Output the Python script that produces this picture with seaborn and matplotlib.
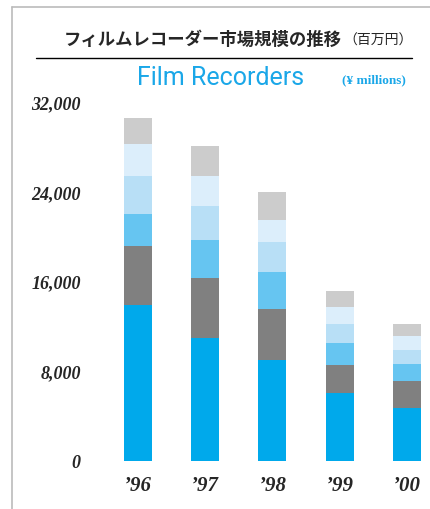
import numpy as np
import matplotlib
matplotlib.use("Agg")
import matplotlib.pyplot as plt
from matplotlib.lines import Line2D
import seaborn as sns

# --- data (¥ millions), segments from bottom to top ---
years = ["’96", "’97", "’98", "’99", "’00"]
seg1 = [13900, 11000, 9050, 6080, 4760]
seg2 = [5300, 5330, 4530, 2500, 2390]
seg3 = [2900, 3400, 3310, 1970, 1520]
seg4 = [3400, 3040, 2680, 1690, 1250]
seg5 = [2800, 2680, 1970, 1520, 1250]
seg6 = [2400, 2680, 2500, 1430, 1070]
yticks = [0, 8000, 16000, 24000, 32000]
ytick_labels = ["0", "8,000", "16,000", "24,000", "32,000"]

colors = ["#00A9EB", "#808080", "#66C5F1", "#B8DFF6", "#DCEEFB", "#CCCCCC"]

sns.set_style("white")
plt.rcParams["font.family"] = ["Noto Sans CJK JP", "DejaVu Sans"]

W, H = 430, 509
fig = plt.figure(figsize=(W / 100, H / 100), dpi=100)
ax = fig.add_axes([110 / W, 48 / H, 315 / W, 358 / H])

segs = [seg1, seg2, seg3, seg4, seg5, seg6]
cum = np.cumsum(np.array(segs), axis=0)
# draw tallest first, then overlay lower cumulative totals
for i in range(len(segs) - 1, -1, -1):
    sns.barplot(x=years, y=cum[i], color=colors[i], width=0.416,
                saturation=1, errorbar=None, linewidth=0, ax=ax)

ax.set_xlim(-0.416, 4.268)
ax.set_ylim(0, 32000)
ax.set_yticks(yticks)
ax.set_yticklabels(ytick_labels)
for s in ax.spines.values():
    s.set_visible(False)
ax.tick_params(axis="y", length=0, pad=21)
ax.tick_params(axis="x", length=0, pad=11)
for lab in ax.get_yticklabels() + ax.get_xticklabels():
    lab.set_family("Liberation Serif")
    lab.set_weight("bold")
    lab.set_style("italic")
for lab in ax.get_yticklabels():
    lab.set_fontsize(13)
for lab in ax.get_xticklabels():
    lab.set_fontsize(15)
ax.set_xlabel("")
ax.set_ylabel("")

# frame lines (left and top) and title rule
fig.add_artist(Line2D([12 / W, 12 / W], [0, 1 - 7 / H], color="#BBBBBB", lw=1.2))
fig.add_artist(Line2D([12 / W, 1], [1 - 7 / H, 1 - 7 / H], color="#BBBBBB", lw=1.2))
fig.add_artist(Line2D([36 / W, 412 / W], [1 - 57.5 / H, 1 - 57.5 / H], color="black", lw=1))

# titles
fig.text(342 / W, 1 - 40 / H, "フィルムレコーダー市場規模の推移", ha="right", va="center",
         fontsize=12.5, fontweight="bold", family=["Noto Sans CJK JP", "DejaVu Sans"])
fig.text(343 / W, 1 - 41 / H, "（百万円）", ha="left", va="center",
         fontsize=10, family=["Noto Sans CJK JP", "DejaVu Sans"])
fig.text(221 / W, 1 - 78 / H, "Film Recorders", ha="center", va="center",
         fontsize=18, color="#1AA7E8", family="Roboto")
fig.text(406 / W, 1 - 80 / H, "(¥ millions)", ha="right", va="center",
         fontsize=9.5, color="#1AA7E8", family="Liberation Serif", fontweight="bold")

fig.savefig("out.png", dpi=100)
